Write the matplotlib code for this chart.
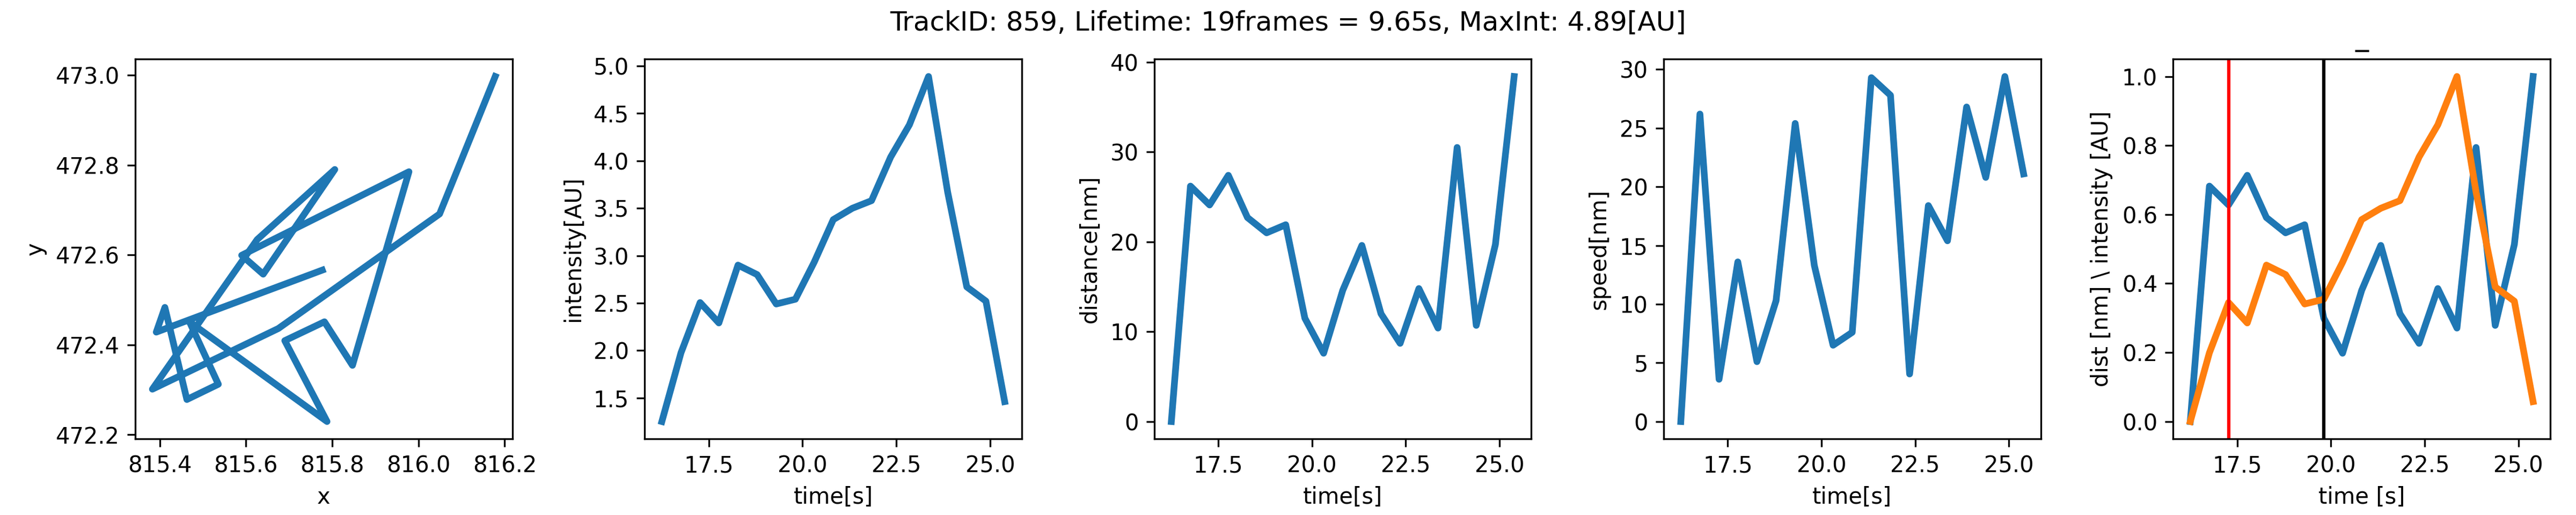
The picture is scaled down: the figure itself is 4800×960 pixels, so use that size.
import numpy as np
import matplotlib
matplotlib.use('Agg')
import matplotlib.pyplot as plt

# track position (px)
xPos = [815.777, 815.392, 815.412, 815.463, 815.536, 815.469, 815.788, 815.690, 815.782, 815.847,
        815.978, 815.590, 815.640, 815.806, 815.626, 815.383, 815.675, 816.049, 816.178]
yPos = [472.566, 472.428, 472.483, 472.278, 472.312, 472.451, 472.229, 472.409, 472.451, 472.354,
        472.785, 472.599, 472.557, 472.790, 472.634, 472.301, 472.436, 472.691, 472.997]

times = [16.25, 16.76, 17.27, 17.77, 18.28, 18.79, 19.30, 19.81, 20.31, 20.82,
         21.33, 21.84, 22.35, 22.85, 23.36, 23.87, 24.38, 24.89, 25.39]

intensity = [1.25, 1.975, 2.505, 2.29, 2.90, 2.80, 2.49, 2.54, 2.93, 3.38,
             3.50, 3.58, 4.04, 4.38, 4.89, 3.67, 2.67, 2.52, 1.46]

distance = [0.0, 26.2, 24.1, 27.4, 22.7, 21.0, 21.9, 11.5, 7.6, 14.6,
            19.6, 12.0, 8.7, 14.8, 10.4, 30.5, 10.7, 19.7, 38.4]

speed = [0.0, 26.2, 3.6, 13.6, 5.1, 10.3, 25.4, 13.3, 6.5, 7.6,
         29.3, 27.8, 4.05, 18.4, 15.4, 26.8, 20.8, 29.4, 21.1]

intensityTicks = [1.5, 2.0, 2.5, 3.0, 3.5, 4.0, 4.5, 5.0]

trackID = 859
nFrames = 19
lifetime = 9.65
redTime = times[2]
blackTime = times[7]

if __name__ == '__main__':
    fig, axs = plt.subplots(1, 5, figsize=(16, 3.2))
    plt.subplots_adjust(left=0.0525, right=0.99, bottom=0.148, top=0.885, wspace=0.351)

    fig.suptitle('TrackID: {}, Lifetime: {}frames = {}s, MaxInt: {:.2f}[AU]'.format(
        trackID, nFrames, lifetime, max(intensity)))

    axs[0].plot(xPos, yPos, linewidth=3)
    axs[0].set_xlabel('x')
    axs[0].set_ylabel('y')

    axs[1].plot(times, intensity, linewidth=3)
    axs[1].set_yticks(intensityTicks)
    axs[1].set_xlabel('time[s]')
    axs[1].set_ylabel('intensity[AU]')

    axs[2].plot(times, distance, linewidth=3)
    axs[2].set_xlabel('time[s]')
    axs[2].set_ylabel('distance[nm]')

    axs[3].plot(times, speed, linewidth=3)
    axs[3].set_xlabel('time[s]')
    axs[3].set_ylabel('speed[nm]')

    # normalised distance and intensity
    distNorm = np.array(distance) / max(distance)
    intNorm = (np.array(intensity) - min(intensity)) / (max(intensity) - min(intensity))
    axs[4].plot(times, distNorm, linewidth=3)
    axs[4].plot(times, intNorm, linewidth=3)
    axs[4].axvline(redTime, color='red')
    axs[4].axvline(blackTime, color='black')
    axs[4].set_title('_')
    axs[4].set_xlabel('time [s]')
    axs[4].set_ylabel('dist [nm] \\ intensity [AU]')

    plt.savefig('out.png', dpi=300)
